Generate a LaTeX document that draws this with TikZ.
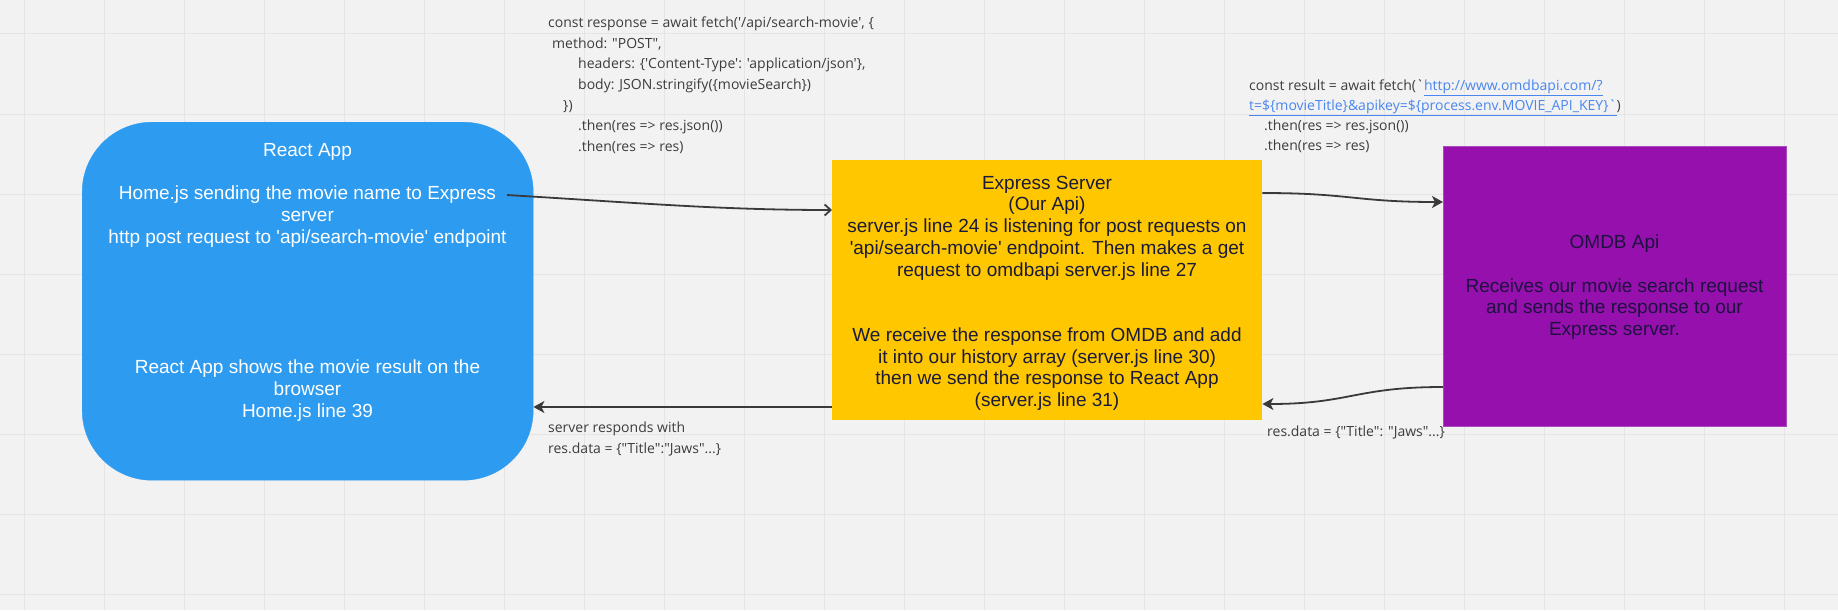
\documentclass[tikz,border=0pt]{standalone}
\usepackage{fontspec}
\newfontfamily\boxfont{Liberation Sans}
\newfontfamily\codefont{Open Sans}
\usetikzlibrary{arrows.meta}
\definecolor{bg}{HTML}{F2F2F2}
\definecolor{gridc}{HTML}{E5E5E5}
\definecolor{reactblue}{HTML}{2D9BF0}
\definecolor{expyellow}{HTML}{FFC700}
\definecolor{omdbpurple}{HTML}{9510AC}
\definecolor{omdbborder}{HTML}{A94ABF}
\definecolor{darktext}{HTML}{1A1A3A}
\definecolor{omdbtext}{HTML}{1E1040}
\definecolor{codegray}{HTML}{3D3D3D}
\definecolor{linkblue}{HTML}{4A86F0}
\definecolor{arrowc}{HTML}{3A3A3A}
\begin{document}
\begin{tikzpicture}[x=1pt,y=-1pt,
  boxtext/.style={font=\boxfont\fontsize{19}{21.75}\selectfont, align=center, anchor=north, inner sep=0pt},
  codeline/.style={font=\codefont\fontsize{14}{20.5}\selectfont, text=codegray, anchor=base west, inner sep=0pt},
  flow/.style={draw=arrowc, line width=1.8pt, -{Stealth[length=11pt,width=12pt,inset=3pt]}},
  flowopen/.style={draw=arrowc, line width=1.8pt, -{Straight Barb[length=6pt,width=11pt]}},
  panel/.style={anchor=north west, inner sep=0pt}]
\fill[bg] (0,0) rectangle (1838,610);
\useasboundingbox (0,0) rectangle (1838,610);
\foreach \x in {24,104,...,1784} \draw[gridc, line width=1pt] (\x,0) -- (\x,610);
\foreach \y in {34,114,...,594} \draw[gridc, line width=1pt] (0,\y) -- (1838,\y);

\node[panel, fill=reactblue, draw=reactblue, rounded corners=70pt, minimum width=451pt, minimum height=358pt] (react) at (82,122) {};
\node[panel, fill=expyellow, minimum width=430pt, minimum height=260pt] (express) at (832,160) {};
\node[panel, fill=omdbpurple, draw=omdbborder, line width=0.8pt, minimum width=343pt, minimum height=280pt] (omdb) at (1443,146) {};

\node[boxtext, text=white] (reacttxt) at (307.5,141) {\rule{0pt}{15pt}React App\\ \mbox{}\\ Home.js sending the movie name to Express\\ server\\ http post request to 'api/search-movie' endpoint\\ \mbox{}\\ \mbox{}\\ \mbox{}\\ \mbox{}\\ \mbox{}\\ React App shows the movie result on the\\ browser\\ Home.js line 39};

\node[boxtext, text=darktext] (exptxt) at (1047,174) {\rule{0pt}{15pt}Express Server\\ (Our Api)\\ server.js line 24 is listening for post requests on\\ 'api/search-movie' endpoint. Then makes a get\\ request to omdbapi server.js line 27\\ \mbox{}\\ \mbox{}\\ We receive the response from OMDB and add\\ it into our history array (server.js line 30)\\ then we send the response to React App\\ (server.js line 31)};

\node[boxtext, text=omdbtext] (omdbtxt) at (1614.5,233.3) {\rule{0pt}{15pt}OMDB Api\\ \mbox{}\\ Receives our movie search request\\ and sends the response to our\\ Express server.};

\node[codeline] (c1) at (548,28) {const response = await fetch('/api/search-movie', \{};
\node[codeline] (c2) at (552,48.5) {method: "POST",};
\node[codeline] (c3) at (578,69) {headers: \{'Content-Type': 'application/json'\},};
\node[codeline] (c4) at (578,89.5) {body: JSON.stringify(\{movieSearch\})};
\node[codeline] (c5) at (563,110) {\})};
\node[codeline] (c6) at (578,130.5) {.then(res => res.json())};
\node[codeline] (c7) at (578,151) {.then(res => res)};

\node[codeline] (d1) at (1249,90) {const result = await fetch(`\textcolor{linkblue}{\underline{http://www.omdbapi.com/?}}};
\node[codeline] (d2) at (1249,110) {\textcolor{linkblue}{\underline{t=\$\{movieTitle\}\&apikey=\$\{process.env.MOVIE\_API\_KEY\}`}})};
\node[codeline] (d3) at (1264,130) {.then(res => res.json())};
\node[codeline] (d4) at (1264,150) {.then(res => res)};

\node[codeline] (l1) at (548,432) {server responds with};
\node[codeline] (l2) at (548,453) {res.data = \{"Title":"Jaws"...\}};
\node[codeline] (l3) at (1267,436) {res.data = \{"Title": "Jaws"...\}};

\coordinate (a1s) at (507,195);
\draw[flowopen] (a1s) .. controls (640,203) and (720,210) .. ([yshift=-50pt]express.north west);
\draw[flow] ([yshift=-33pt]express.north east) .. controls (1350,193) and (1355,202) .. ([yshift=-56pt]omdb.north west);
\draw[flow] ([yshift=-241pt]omdb.north west) .. controls (1355,387) and (1350,404) .. ([yshift=-244pt]express.north east);
\draw[flow] ([yshift=-247pt]express.north west) -- ([yshift=-285pt]react.north east);
\end{tikzpicture}
\end{document}
